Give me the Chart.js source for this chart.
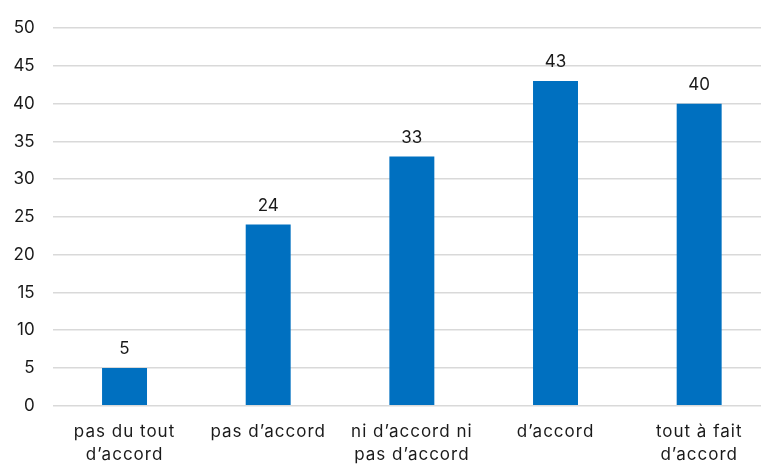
<!DOCTYPE html>
<html>
<head>
<meta charset="utf-8">
<script src="https://cdn.jsdelivr.net/npm/chart.js@4/dist/chart.umd.min.js"></script>
<style>
html,body{margin:0;padding:0;background:#fff;overflow:hidden;}
#wrap{position:absolute;left:0;top:0;width:780px;height:464px;}
</style>
</head>
<body>
<div id="wrap"><canvas id="c" width="780" height="464"></canvas></div>
<script>
const categories = [["pas du tout","d\u2019accord"],"pas d\u2019accord",["ni d\u2019accord ni","pas d\u2019accord"],"d\u2019accord",["tout \u00e0 fait","d\u2019accord"]];
const values = [5, 24, 33, 43, 40];
const yTicks = [0, 5, 10, 15, 20, 25, 30, 35, 40, 45, 50];

const FONT = "Inter, 'DejaVu Sans', 'Liberation Sans', Arial, sans-serif";

const labelPlugin = {
  id: 'valueLabels',
  beforeDraw(chart) {
    const s = chart.scales.x;
    if (s && !s._lsWrapped) {
      const orig = s.drawLabels.bind(s);
      s.drawLabels = function (area) {
        const ctx = this.ctx;
        ctx.save();
        ctx.letterSpacing = '1px';
        orig(area);
        ctx.restore();
      };
      s._lsWrapped = true;
    }
  },
  afterDatasetsDraw(chart) {
    const ctx = chart.ctx;
    const meta = chart.getDatasetMeta(0);
    ctx.save();
    ctx.font = "17px " + FONT;
    ctx.fillStyle = "#1a1a1a";
    ctx.textAlign = "center";
    ctx.textBaseline = "alphabetic";
    meta.data.forEach((bar, i) => {
      ctx.fillText(String(values[i]), bar.x, bar.y - 14);
    });
    ctx.restore();
  }
};

new Chart(document.getElementById('c'), {
  type: 'bar',
  data: {
    labels: categories,
    datasets: [{
      data: values,
      backgroundColor: '#0070C0',
      borderWidth: 0,
      barPercentage: 0.313,
      categoryPercentage: 1
    }]
  },
  plugins: [labelPlugin],
  options: {
    responsive: false,
    animation: false,
    devicePixelRatio: 1,
    layout: { padding: { left: 0, right: 9, top: 0, bottom: 0 } },
    plugins: { legend: { display: false }, tooltip: { enabled: false } },
    scales: {
      x: {
        grid: { display: false, drawTicks: false },
        border: { display: false },
        ticks: { color: '#1a1a1a', font: { family: FONT, size: 17, lineHeight: 1.33 }, padding: 15, maxRotation: 0, autoSkip: false },
        afterFit(scale) { scale.height = 58.3; }
      },
      y: {
        min: 0, max: 50,
        afterBuildTicks(scale) { scale.ticks = yTicks.map(v => ({ value: v })); },
        grid: { color: '#d9d9d9', lineWidth: 1.5, drawTicks: false },
        border: { display: false },
        ticks: { color: '#1a1a1a', font: { family: FONT, size: 17 }, padding: 18 },
        afterFit(scale) { scale.width = 52.7; }
      }
    }
  }
});
</script>
</body>
</html>
